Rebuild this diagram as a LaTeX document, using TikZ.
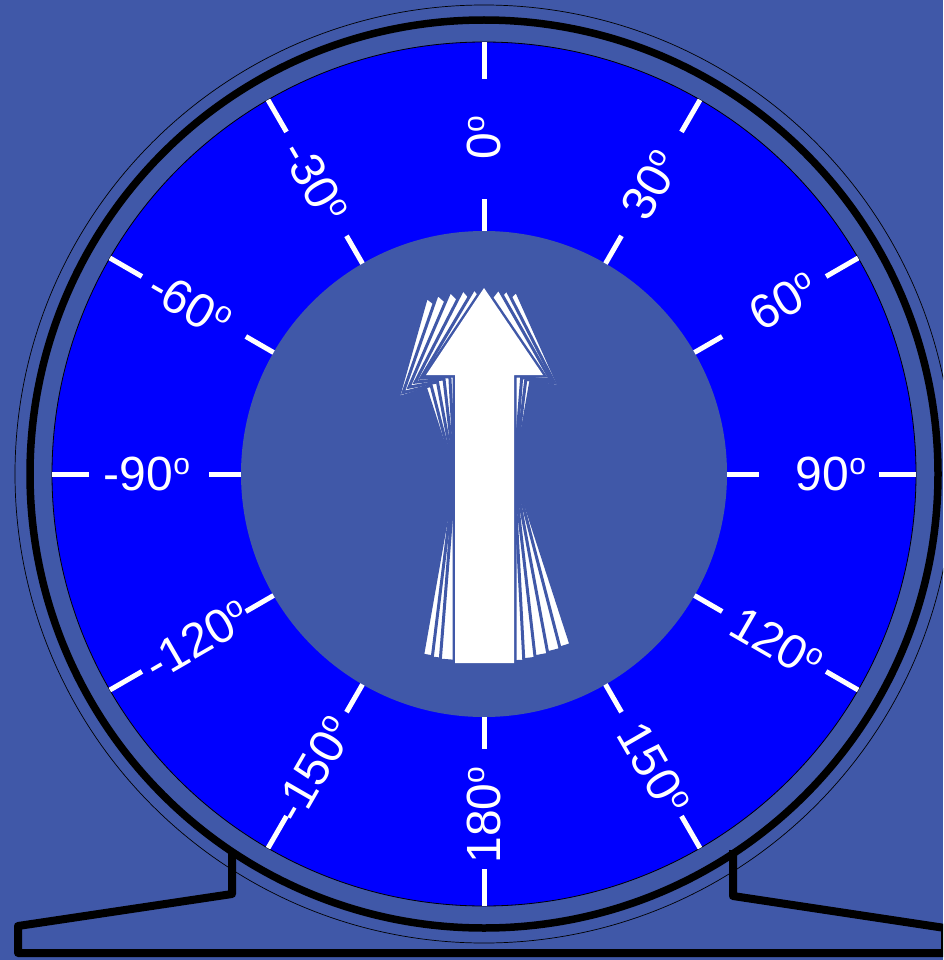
\documentclass[tikz,border=0pt]{standalone}
\usepackage{fontspec}
\setmainfont{Liberation Sans}
\usepackage{tikz}
\definecolor{dialbg}{RGB}{64,88,168}
\definecolor{dialblue}{RGB}{0,0,255}
\newcommand{\dego}{\raisebox{16pt}{\fontsize{30}{30}\selectfont o}}

\begin{document}
\begin{tikzpicture}[
  x=1pt, y=1pt,
  tick/.style={white, line width=5pt},
  deg/.style={text=white, font=\fontsize{48}{48}\selectfont, inner sep=0pt},
  ghost/.style={fill=white, draw=dialbg, line width=3pt, line join=miter},
  stand/.style={line width=8pt, line join=round}
]
\useasboundingbox (0,0) rectangle (943,-960);
\fill[dialbg] (0,0) rectangle (943,-960);
\clip (0,0) rectangle (943,-960);

\coordinate (c) at (484,-474);

\draw[stand] (733,-850) -- (733,-896) -- (945,-928) -- (945,-953) -- (18,-953)
  -- (18,-926) -- (232,-894) -- (232,-850);

\draw[line width=0.7pt] (c) circle[radius=469];
\draw[line width=7.5pt] (c) circle[radius=454];
\filldraw[fill=dialblue, draw=black, line width=0.8pt] (c) circle[radius=432];
\fill[dialbg] (c) circle[radius=243];

\foreach \a in {0,30,...,330} {
  \draw[tick] ([shift={(c)}]\a:395) -- ([shift={(c)}]\a:432);
  \draw[tick] ([shift={(c)}]\a:243) -- ([shift={(c)}]\a:275);
}

\foreach \t/\r [evaluate=\t as \ang using 90-\t] in {0/336,30/334,60/346,90/347,120/338,150/340}
  \node[deg, rotate=\ang] (lbl\t) at ([shift={(c)}]\ang:\r) {\t\dego};
\foreach \t/\nm/\r [evaluate=\t as \ang using 90-\t] in {-30/m30/338,-60/m60/340,-90/m90/337,-120/m120/331,-150/m150/341,180/180/341}
  \node[deg, rotate=\ang-180] (lbl\nm) at ([shift={(c)}]\ang:\r) {\t\dego};

\foreach \g in {18,14.5,10.5,-10,-7,6.5,-4.5,3}
  \path[ghost, rotate around={\g:(c)}] (455,-663) -- (455,-375) -- (426,-375) -- (484,-288)
    -- (543,-375) -- (514,-375) -- (514,-663) -- cycle;
\path[fill=white, draw=dialbg, line width=5pt] (455,-663) -- (455,-375) -- (426,-375) -- (484,-288)
  -- (543,-375) -- (514,-375) -- (514,-663) -- cycle;
\fill[white] (455,-663) -- (455,-375) -- (426,-375) -- (484,-288)
  -- (543,-375) -- (514,-375) -- (514,-663) -- cycle;
\end{tikzpicture}
\end{document}
